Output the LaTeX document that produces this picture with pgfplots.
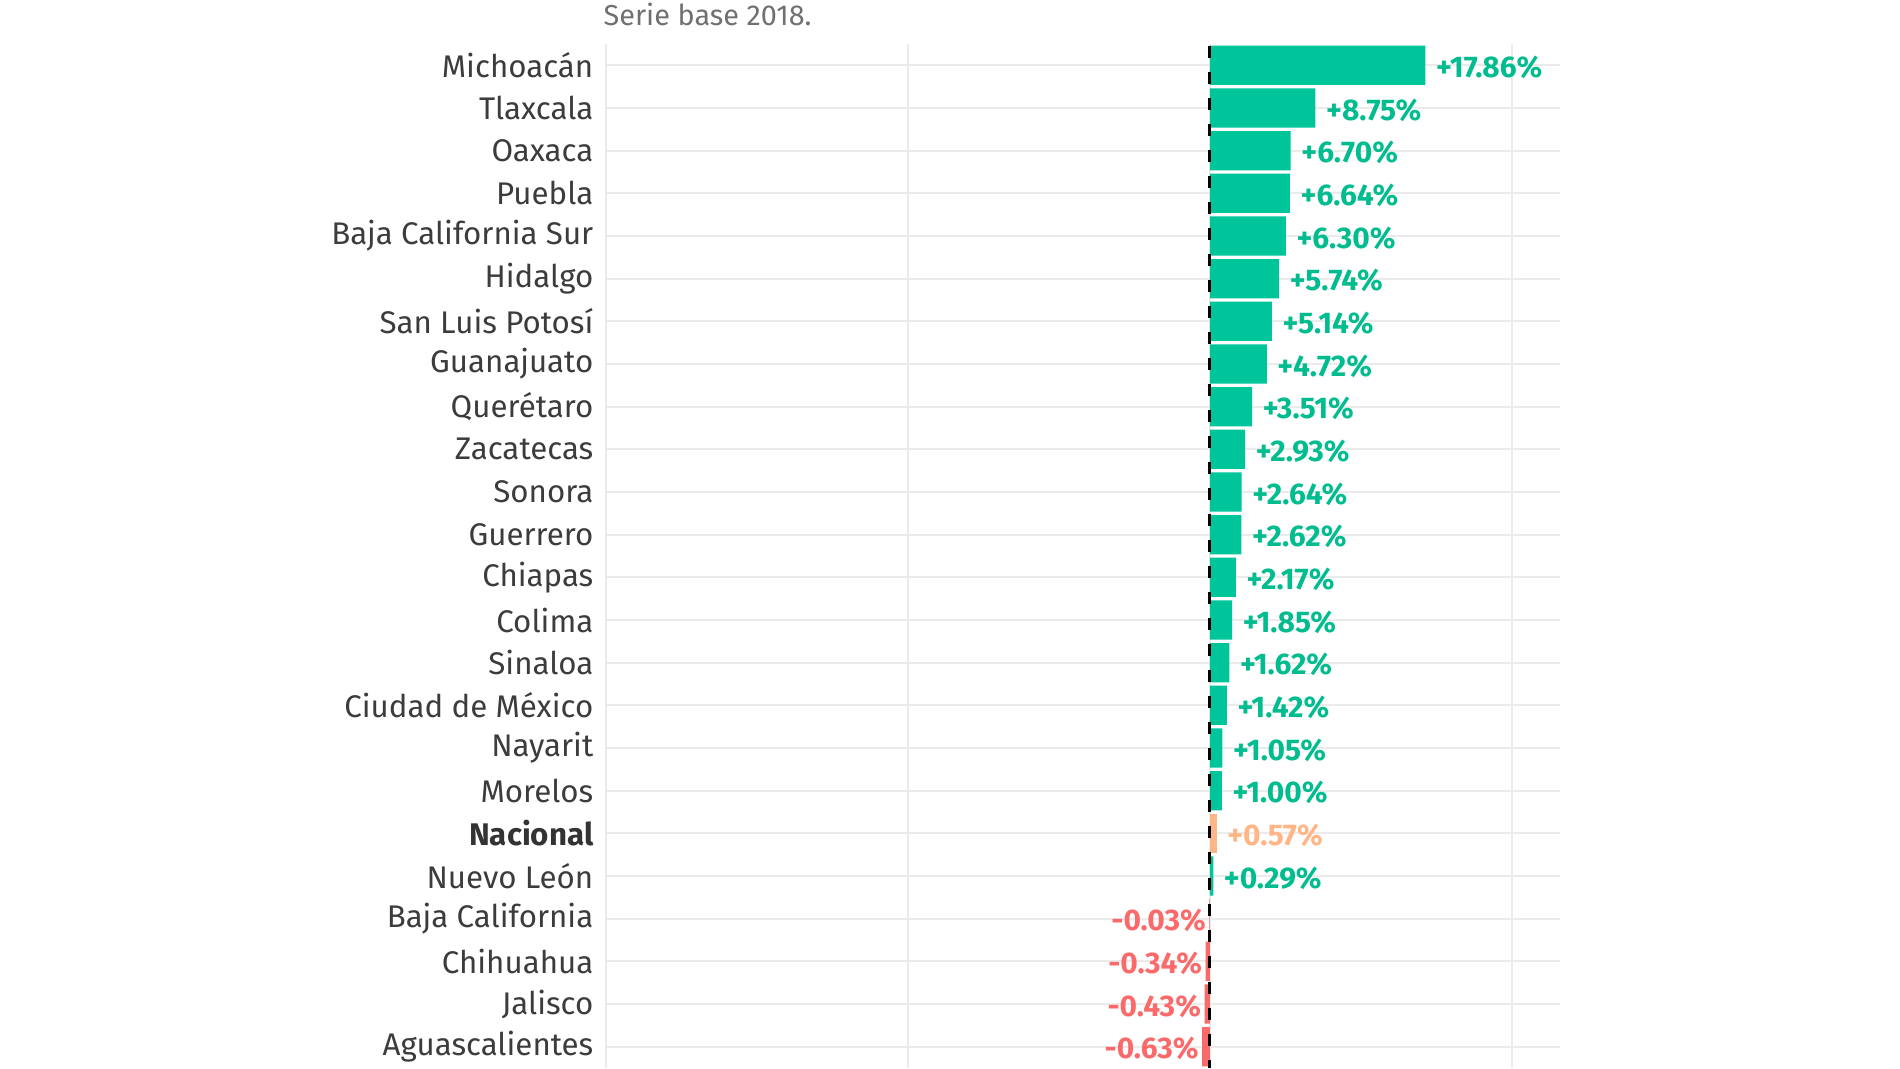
\documentclass[border=0pt]{standalone}
\usepackage{pgfplots}
\usepackage{pgfplotstable}
\pgfplotsset{compat=1.18}
\usepackage{fontspec}
\setmainfont{Fira Sans}
\definecolor{grn}{HTML}{00C49A}
\definecolor{grnlab}{HTML}{00BC8E}
\definecolor{neg}{HTML}{FA6A6A}
\definecolor{nac}{HTML}{FFB585}
\definecolor{gridc}{HTML}{EBEBEB}
\definecolor{labc}{HTML}{3C3C3C}
\definecolor{subc}{HTML}{707070}

\pgfplotstableread{
y x lab
0 17.86 17.86
1 8.75 8.75
2 6.70 6.70
3 6.64 6.64
4 6.30 6.30
5 5.74 5.74
6 5.14 5.14
7 4.72 4.72
8 3.51 3.51
9 2.93 2.93
10 2.64 2.64
11 2.62 2.62
12 2.17 2.17
13 1.85 1.85
14 1.62 1.62
15 1.42 1.42
16 1.05 1.05
17 1.00 1.00
19 0.29 0.29
}\pos
\pgfplotstableread{
y x lab
18 0.57 0.57
}\nac
\pgfplotstableread{
y x lab
20 -0.03 -0.03
21 -0.34 -0.34
22 -0.43 -0.43
23 -0.63 -0.63
}\negt

\begin{document}
\begin{tikzpicture}
\begin{axis}[
  name=main, at={(0,0)}, anchor=south west,
  scale only axis, width=95.4mm, height=102.4mm,
  xmin=-50, xmax=29, ymin=-0.5, ymax=23.5, y dir=reverse,
  xbar, bar width=0.92,
  axis line style={draw=none}, major tick length=0pt,
  xtick={-50,-25,0,25}, xticklabels={},
  ytick={0,...,23},
  yticklabels={Michoacán, Tlaxcala, Oaxaca, Puebla, Baja California Sur, Hidalgo, San Luis Potosí, Guanajuato, Querétaro, Zacatecas, Sonora, Guerrero, Chiapas, Colima, Sinaloa, Ciudad de México, Nayarit, Morelos, {\textcolor{black!80}{\bfseries Nacional}}, Nuevo León, Baja California, Chihuahua, Jalisco, Aguascalientes},
  yticklabel style={font=\fontsize{8.9}{10}\selectfont, text=labc, inner sep=0pt, xshift=-1.2mm},
  grid=major, major grid style={gridc, line width=0.2mm},
  point meta=explicit symbolic,
]
\addplot[fill=grn, draw=none, bar shift=0pt,
  nodes near coords={+\pgfplotspointmeta\%},
  every node near coord/.style={anchor=west, inner sep=0pt, xshift=1.0mm, yshift=-0.2mm, text=grnlab, font=\fontsize{8.5}{10}\selectfont\bfseries}]
  table[x=x, y=y, meta=lab] {\pos};
\addplot[fill=nac, draw=none, bar shift=0pt,
  nodes near coords={+\pgfplotspointmeta\%},
  every node near coord/.style={anchor=west, inner sep=0pt, xshift=1.0mm, yshift=-0.2mm, text=nac, font=\fontsize{8.5}{10}\selectfont\bfseries}]
  table[x=x, y=y, meta=lab] {\nac};
\addplot[fill=neg, draw=none, bar shift=0pt,
  nodes near coords={\pgfplotspointmeta\%},
  every node near coord/.style={anchor=east, inner sep=0pt, xshift=-0.3mm, yshift=-0.2mm, text=neg, font=\fontsize{8.5}{10}\selectfont\bfseries}]
  table[x=x, y=y, meta=lab] {\negt};
\draw[black, line width=0.3mm, dash pattern=on 1.2mm off 1.4mm] (axis cs:0,-0.46) -- (axis cs:0,23.5);
\end{axis}
\node[anchor=base west, inner sep=0pt, font=\fontsize{8.2}{10}\selectfont, text=subc] at ([xshift=-0.3mm, yshift=1.8mm]main.north west) {Serie base 2018.};
\pgfresetboundingbox
\path (-60.6mm,0mm) rectangle (129.4mm,106.8mm);
\end{tikzpicture}
\end{document}
